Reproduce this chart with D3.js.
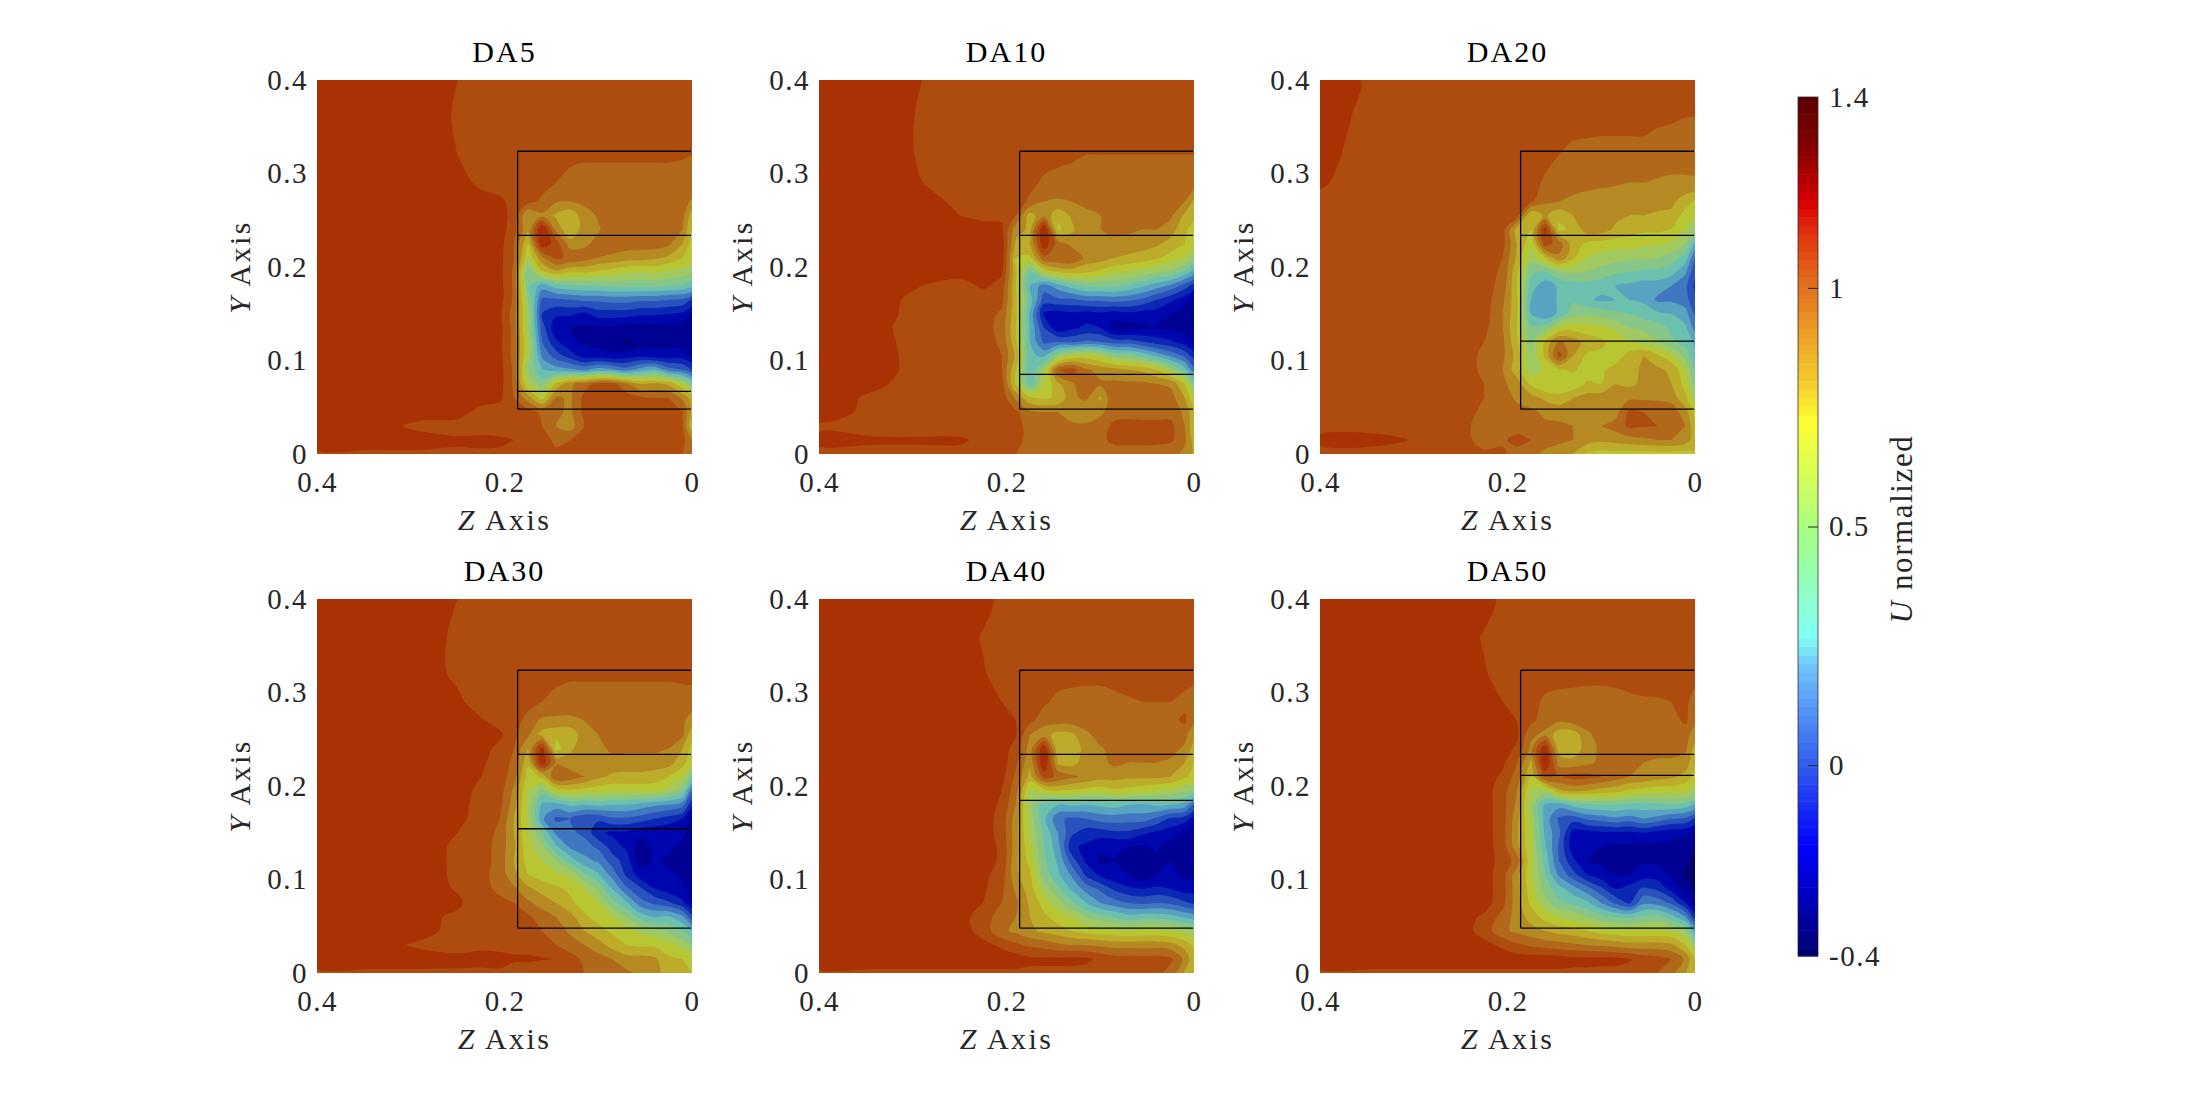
<!DOCTYPE html>
<html>
<head>
<meta charset="utf-8">
<script src="https://cdn.jsdelivr.net/npm/d3@7"></script>
<style>
  body { margin: 0; background: #fff; }
  text { font-family: "Liberation Serif", serif; fill: #262626; }
</style>
</head>
<body>
<svg id="fig" width="2187" height="1093"></svg>
<script>
// grid nodes of the sampled field, left to right and top to bottom
const zNodes = [0.4,0.34,0.29,0.25,0.225,0.205,0.19,0.175,0.16,0.145,0.13,0.115,0.1,0.085,0.07,0.055,0.04,0.025,0.01,0];
const yNodes = [0.4,0.36,0.32,0.29,0.27,0.255,0.24,0.225,0.21,0.195,0.18,0.165,0.15,0.135,0.12,0.105,0.09,0.075,0.06,0.045,0.03,0.015,0];

// U normalized x 100
const da5 = [
[115,115,115,110,105,105,105,105,105,105,105,105,105,105,105,105,105,105,105,105],
[115,115,115,109,105,105,105,105,105,105,105,105,105,105,105,105,105,105,105,105],
[115,115,115,110,105,105,105,105,105,105,104,102,102,102,102,102,102,102,101,100],
[115,115,115,115,107,105,105,105,104,100,95,95,95,95,95,95,95,95,95,96],
[115,115,115,115,115,112,107,103,98,91,90,92,94,95,95,95,95,95,95,88],
[115,115,115,115,115,115,106,80,88,78,72,86,91,95,95,95,95,95,93,74],
[115,115,115,115,115,115,104,82,122,88,70,85,89,95,95,95,95,95,90,68],
[115,115,115,115,115,114,100,70,118,105,85,88,93,95,95,95,95,92,80,66],
[115,115,115,115,115,113,100,60,88,102,98,95,90,88,85,84,82,78,70,62],
[115,115,115,115,115,113,98,40,68,78,72,72,68,65,62,60,62,58,56,52],
[115,115,115,115,115,114,98,42,25,35,38,40,40,42,42,42,42,40,38,32],
[115,115,115,115,115,114,98,50,8,8,10,12,12,14,14,12,12,10,8,-2],
[115,115,115,115,115,112,95,55,0,-8,-8,-12,-5,-5,-5,-8,-8,-10,-12,-22],
[115,115,115,115,115,113,96,55,5,-18,-20,-22,-22,-22,-25,-25,-25,-25,-25,-30],
[115,115,115,115,115,113,96,60,10,-8,-18,-22,-25,-25,-32,-28,-25,-25,-25,-30],
[115,115,115,115,115,113,96,58,18,5,-5,-15,-15,-18,-15,-12,-15,-15,-15,-22],
[115,115,115,115,115,114,98,50,30,25,22,18,25,22,15,25,30,15,10,0],
[115,115,115,115,115,114,98,60,45,72,88,95,104,104,92,80,82,78,60,40],
[115,115,115,115,115,112,100,85,66,92,88,103,107,105,105,102,100,100,88,75],
[115,115,115,115,106,105,103,104,98,92,88,103,105,105,105,105,105,104,100,78],
[115,115,107,105,104,104,103,102,100,90,85,100,105,105,105,105,105,104,100,70],
[115,115,115,112,113,112,110,106,104,98,100,103,104,104,104,104,104,104,103,90],
[108,108,108,108,108,108,106,104,102,102,102,102,102,102,102,102,102,102,100,95]
];
const da10 = [
[115,115,110,105,105,105,105,105,105,105,105,105,105,105,105,105,105,105,105,105],
[115,115,109,105,105,105,105,105,105,105,105,105,105,105,105,105,105,105,105,105],
[115,115,109,105,105,105,105,105,105,104,102,100,100,100,100,100,100,100,100,100],
[115,115,110,105,105,105,105,103,98,95,95,95,95,95,95,95,95,95,95,95],
[115,115,115,107,105,105,105,98,90,89,90,92,95,95,95,95,95,95,90,78],
[115,115,115,110,108,108,100,75,88,72,82,88,90,95,96,96,96,92,78,72],
[115,115,115,111,113,112,84,78,122,68,78,88,90,92,92,90,90,85,72,65],
[115,115,115,115,115,115,78,80,118,95,86,88,88,88,86,84,82,76,70,62],
[115,115,115,115,115,115,70,68,98,100,100,87,85,80,78,76,72,66,60,50],
[115,115,115,115,115,112,72,38,62,72,75,72,68,62,60,56,52,48,38,25],
[115,115,110,105,112,106,70,30,15,25,35,42,42,42,38,32,25,18,5,-5],
[115,115,106,105,105,103,72,35,5,8,8,12,12,14,12,8,0,-8,-15,-25],
[115,115,105,105,105,98,72,28,-12,-15,-12,-15,-12,-15,-12,-15,-15,-20,-25,-32],
[115,113,105,105,105,96,70,30,0,-18,-12,-8,-10,-25,-25,-22,-20,-22,-25,-30],
[115,114,105,105,105,98,72,30,8,10,8,12,10,5,5,0,-5,-8,-15,-25],
[115,115,105,105,105,100,78,32,28,50,62,65,60,48,45,38,28,18,8,-5],
[115,115,105,105,105,100,70,30,55,100,105,92,86,84,80,78,70,55,35,12],
[115,112,105,105,105,104,68,35,60,78,88,100,92,92,92,92,90,88,70,42],
[115,108,105,105,105,106,88,72,68,72,88,92,78,100,98,96,95,95,80,62],
[115,107,105,105,105,103,102,92,90,90,85,82,88,95,96,96,96,96,88,72],
[108,104,103,103,100,102,102,98,92,92,92,92,94,103,104,103,103,103,90,72],
[113,112,112,112,107,104,103,97,90,90,90,92,96,104,105,105,104,102,92,75],
[106,106,106,106,105,104,100,98,92,92,92,92,92,92,92,92,92,92,88,78]
];
const da20 = [
[115,108,105,105,105,105,105,105,105,105,105,105,105,105,105,105,105,105,105,105],
[115,106,105,105,105,105,105,105,105,105,105,105,105,105,105,105,102,101,100,100],
[113,105,105,105,105,105,105,105,104,100,97,96,95,95,95,95,95,95,95,95],
[111,105,105,105,105,105,105,105,98,95,94,93,92,91,90,90,89,88,88,88],
[108,105,105,105,105,105,105,102,92,90,88,86,85,85,85,85,84,82,75,68],
[107,105,105,105,105,105,104,70,82,72,80,88,85,83,80,80,78,78,65,60],
[106,105,105,105,105,105,75,70,115,68,72,85,85,78,75,72,72,70,60,50],
[105,105,105,105,105,103,80,62,105,95,75,68,66,65,65,62,62,58,50,28],
[105,105,105,105,105,100,78,55,70,88,72,60,56,54,52,52,50,45,35,10],
[105,105,105,105,105,98,72,42,40,50,52,50,46,42,40,38,38,34,22,2],
[105,105,105,105,105,96,70,35,24,32,35,36,34,30,28,25,25,20,12,-2],
[105,105,105,105,105,92,72,30,22,32,38,32,28,30,30,28,18,18,14,2],
[105,105,105,105,105,90,72,30,22,32,46,48,46,42,40,36,32,30,24,8],
[105,105,105,105,103,90,70,42,45,62,66,64,62,58,50,48,44,38,32,16],
[105,105,105,105,100,92,72,46,72,92,85,76,72,66,60,56,50,42,36,28],
[105,105,105,105,98,92,76,50,72,104,80,68,68,64,74,80,72,62,46,32],
[105,105,105,105,98,90,74,54,62,68,72,64,68,74,76,82,82,78,60,38],
[105,105,105,103,100,92,85,68,60,60,62,72,70,80,78,82,85,80,66,46],
[105,105,105,104,100,96,88,84,78,74,80,84,86,88,88,88,88,86,72,56],
[105,105,105,104,98,96,94,92,88,86,88,88,85,86,102,100,98,96,84,66],
[105,105,105,103,96,94,94,94,92,92,90,88,90,94,102,101,100,99,90,72],
[113,114,108,104,96,98,104,100,94,92,90,85,82,84,86,88,90,90,85,75],
[105,105,105,104,102,102,95,92,88,85,80,68,66,66,66,66,66,66,66,68]
];
const da30 = [
[115,115,115,110,105,105,105,105,105,105,105,105,105,105,105,105,105,105,105,105],
[115,115,115,108,105,105,105,105,105,105,105,105,105,105,105,105,105,105,105,105],
[115,115,115,108,105,105,105,105,105,104,102,102,102,102,102,102,102,102,103,103],
[115,115,115,112,105,105,105,104,100,96,95,95,95,95,95,95,95,95,95,95],
[115,115,115,115,111,106,105,96,88,88,88,90,95,95,95,95,95,95,92,85],
[115,115,115,115,115,112,103,92,76,72,72,86,90,94,95,95,95,95,92,72],
[115,115,115,115,114,107,100,80,115,66,78,86,86,93,93,93,93,90,80,66],
[115,115,115,115,112,105,98,72,118,88,84,85,88,86,84,84,84,84,74,62],
[115,115,115,115,110,105,95,65,72,100,96,90,82,78,78,78,76,70,60,40],
[115,115,115,115,107,104,88,60,45,64,68,66,64,62,62,62,62,56,44,10],
[115,115,115,115,105,103,85,58,28,25,32,30,32,30,30,26,22,20,14,-8],
[115,115,115,113,105,100,80,60,22,8,10,2,2,8,8,5,0,-5,-10,-25],
[115,115,115,110,105,98,80,62,40,18,12,8,-8,-12,-12,-18,-18,-18,-18,-25],
[115,115,115,108,105,96,82,64,52,32,18,14,8,-5,-12,-25,-18,-18,-22,-25],
[115,115,115,108,105,96,80,66,60,50,36,24,18,5,-5,-25,-18,-22,-25,-30],
[115,115,115,108,104,95,84,70,66,62,58,42,32,16,-2,-15,-18,-18,-22,-30],
[115,115,115,109,103,98,92,82,76,72,68,60,48,30,12,2,-10,-15,-18,-25],
[115,115,115,112,103,102,100,92,86,80,72,66,60,44,32,14,8,2,-8,-20],
[115,115,113,108,104,102,104,102,95,90,84,72,66,60,50,36,30,32,22,2],
[115,115,114,106,104,102,104,103,100,96,88,80,74,68,64,58,52,48,40,30],
[115,115,108,104,108,106,104,103,102,100,95,90,84,76,70,68,68,64,56,48],
[115,115,115,114,113,114,113,113,111,110,104,98,94,90,84,84,82,72,70,62],
[108,108,108,108,108,108,100,100,100,100,100,100,98,96,92,88,84,74,70,70]
];
const da40 = [
[115,115,115,115,115,106,105,105,105,105,105,105,105,105,105,105,105,105,105,105],
[115,115,115,115,109,105,105,105,105,105,105,105,105,105,105,105,105,105,105,105],
[115,115,115,115,111,106,105,105,105,105,104,103,103,103,104,104,105,105,105,103],
[115,115,115,115,115,110,107,105,102,97,96,96,96,98,99,100,100,100,97,95],
[115,115,115,115,115,115,110,103,94,95,95,95,95,95,95,95,96,97,102,92],
[115,115,115,115,115,115,111,90,84,76,78,88,94,95,95,95,95,95,94,82],
[115,115,115,115,115,115,106,85,118,72,70,86,89,93,95,95,94,94,88,76],
[115,115,115,115,115,115,102,82,122,78,76,86,87,92,90,90,90,88,80,70],
[115,115,115,115,115,113,98,76,104,98,92,88,84,84,82,82,82,80,72,66],
[115,115,115,115,115,110,94,58,65,70,68,66,64,68,66,64,60,58,52,48],
[115,115,115,115,115,108,90,52,35,30,32,30,32,34,30,28,32,30,26,8],
[115,115,115,115,115,106,85,56,32,12,8,10,14,15,14,15,8,-2,-5,-15],
[115,115,115,115,115,106,84,58,38,20,2,-5,-5,-2,-2,-8,-12,-15,-22,-28],
[115,115,115,115,115,108,84,62,40,24,-8,-12,-18,-20,-20,-22,-18,-25,-25,-30],
[115,115,115,115,115,108,82,66,42,28,5,-12,-22,-20,-22,-28,-22,-20,-24,-28],
[115,115,115,115,113,105,82,72,46,32,18,-2,-12,-18,-20,-28,-20,-18,-22,-22],
[115,115,115,115,112,102,88,74,56,42,28,16,8,-2,-8,-10,-8,-10,-15,-15],
[115,115,115,115,110,100,92,78,66,54,42,30,20,14,10,8,10,8,2,-2],
[115,115,115,115,104,96,90,80,72,66,60,50,44,40,34,36,36,34,28,24],
[115,115,115,115,106,92,88,82,78,74,70,66,64,62,60,62,62,60,56,50],
[115,115,115,115,113,108,102,98,96,92,90,90,88,86,86,86,86,84,76,68],
[115,115,115,115,115,115,115,112,112,112,113,112,108,104,104,103,104,102,88,72],
[108,108,108,108,108,108,108,108,108,108,107,106,106,104,104,104,102,96,78,70]
];
const da50 = [
[115,115,115,115,115,107,105,105,105,105,105,105,105,105,105,105,105,105,105,105],
[115,115,115,115,109,105,105,105,105,105,105,105,105,105,105,105,105,105,105,105],
[115,115,115,115,111,106,105,105,105,105,104,103,103,103,104,104,105,105,105,103],
[115,115,115,115,115,110,107,104,98,96,96,96,96,97,98,99,99,100,102,96],
[115,115,115,115,115,114,110,103,94,92,95,95,95,95,95,95,95,96,102,92],
[115,115,115,115,115,115,112,92,88,74,74,88,94,95,95,95,95,95,95,84],
[115,115,115,115,115,115,108,88,118,74,72,86,92,95,95,95,95,94,92,76],
[115,115,115,115,115,112,100,78,122,86,84,88,92,93,92,90,88,88,85,72],
[115,115,115,115,115,108,96,70,102,100,104,103,100,95,90,88,84,82,76,66],
[115,115,115,115,115,104,90,58,55,78,82,80,76,74,68,66,64,64,62,56],
[115,115,115,115,115,104,88,54,28,24,34,38,40,40,38,36,38,40,36,28],
[115,115,115,115,115,104,84,58,26,8,4,12,14,18,15,20,16,10,8,-2],
[115,115,115,115,115,104,82,60,28,12,-14,-14,-12,-12,-12,-10,-14,-16,-18,-22],
[115,115,115,115,115,105,84,60,32,8,-16,-20,-20,-22,-22,-24,-22,-24,-25,-28],
[115,115,115,115,115,106,96,62,36,10,-8,-20,-22,-26,-24,-22,-22,-22,-28,-35],
[115,115,115,115,115,104,84,62,40,18,4,-10,-16,-20,-20,-15,-15,-22,-32,-38],
[115,115,115,115,115,104,84,64,46,34,24,14,2,-10,-6,2,-2,-14,-25,-32],
[115,115,115,115,115,103,84,68,54,42,38,32,20,8,-2,18,16,8,-10,-25],
[115,115,115,115,108,96,86,76,66,60,56,50,44,40,38,42,44,34,20,-5],
[115,115,115,115,106,92,88,84,80,76,74,70,66,64,62,62,62,60,50,25],
[115,115,115,115,113,108,102,98,96,94,92,90,88,86,84,84,84,82,70,50],
[115,115,115,115,115,115,115,115,115,115,113,113,113,113,111,106,104,100,88,70],
[108,108,108,108,108,108,108,108,108,108,108,108,107,107,106,104,100,92,80,72]
];

const panelNames = ["DA5","DA10","DA20","DA30","DA40","DA50"];
const panelFields = [da5,da10,da20,da30,da40,da50];
const planeY = [0.067,0.0852,0.1208,0.1543,0.1847,0.2114];

// outline of the model section
const boxZ = 0.186;
const boxLevels = [0.3238,0.2338,0.048];

const xTicks = [0.4,0.2,0];
const yTicks = [0,0.1,0.2,0.3,0.4];
const barTicks = [-0.4,0,0.5,1,1.4];

// filled contour levels (x 100) and the colour of the band above each
const levels = [-40,-30,-20,-10,0,10,20,30,40,50,60,70,80,90,100,110,120,130];
const bandColors = ["#000070","#000092","#0006ae","#0b28b4","#2a52bc","#3f78c0","#58a3c0",
  "#6cc0ae","#88c688","#a2c860","#b8c632","#bdab2a","#b58a22","#b1681a","#ad4c0e","#a83204","#b81c0a","#a00808"];

// colorbar colormap
const barStops = [-0.4,-0.17,0,0.1,0.2,0.27,0.4,0.5,0.6,0.72,0.8,0.9,1,1.1,1.18,1.3,1.4];
const barColors = ["#00006e","#0000ff","#325ceb","#508cf5","#6ebefa","#82fff5","#96ffb4","#aaff82",
  "#d2ff5a","#ffff32","#f5cd2d","#eba028","#e1731e","#e13c0f","#d70000","#820000","#5a0000"];

const svg = d3.select("#fig");
const panelW = 375, panelH = 374;
const colX = [317,819,1320], rowY = [80,599];
const fmt = d => d === 0 ? "0" : String(d);

const zIndex = d3.scaleLinear().domain(zNodes.map((_, i) => i + 0.5)).range(zNodes).clamp(true);
const yIndex = d3.scaleLinear().domain(yNodes.map((_, i) => i + 0.5)).range(yNodes).clamp(true);
const contours = d3.contours().size([zNodes.length, yNodes.length]).thresholds(levels);
const bandColor = d3.scaleOrdinal().domain(levels).range(bandColors);

svg.append("clipPath").attr("id", "panel-clip").append("rect")
  .attr("width", panelW).attr("height", panelH);

panelNames.forEach((name, k) => {
  const g = svg.append("g")
    .attr("transform", `translate(${colX[k % 3]},${rowY[Math.floor(k / 3)]})`);
  const x = d3.scaleLinear().domain([0.4, 0]).range([0, panelW]);
  const y = d3.scaleLinear().domain([0, 0.4]).range([panelH, 0]);

  // rings are drawn with a closed spline so the bands lose the grid's corners
  const ring = d3.line()
    .x(p => x(zIndex(p[0])))
    .y(p => y(yIndex(p[1])))
    .curve(d3.curveCatmullRomClosed.alpha(0.5));
  const bandPath = c => c.coordinates
    .map(poly => poly.map(r => ring(r.slice(0, -1))).join("")).join("");

  const field = g.append("g").attr("clip-path", "url(#panel-clip)");
  field.append("rect").attr("width", panelW).attr("height", panelH)
    .attr("fill", bandColor(110));
  field.selectAll("path.band")
    .data(contours(panelFields[k].flat()))
    .join("path")
    .attr("class", "band")
    .attr("d", bandPath)
    .attr("fill", d => bandColor(d.value));

  // section outline and the laser plane
  const lines = boxLevels.concat(planeY[k]);
  g.selectAll("line.plane")
    .data(lines)
    .join("line")
    .attr("class", "plane")
    .attr("x1", x(boxZ)).attr("x2", x(0) - 1)
    .attr("y1", d => y(d)).attr("y2", d => y(d))
    .attr("stroke", "#000").attr("stroke-width", 1.3);
  g.append("line")
    .attr("x1", x(boxZ)).attr("x2", x(boxZ))
    .attr("y1", y(boxLevels[0])).attr("y2", y(boxLevels[2]))
    .attr("stroke", "#000").attr("stroke-width", 1.3);

  const ax = g.append("g").attr("transform", `translate(0,${panelH})`)
    .call(d3.axisBottom(x).tickValues(xTicks).tickFormat(fmt).tickSize(0).tickPadding(17));
  const ay = g.append("g")
    .call(d3.axisLeft(y).tickValues(yTicks).tickFormat(fmt).tickSize(0).tickPadding(9));
  [ax, ay].forEach(a => {
    a.select(".domain").remove();
    a.selectAll("text").style("font-family", null).style("font-size", "29px").style("letter-spacing", "1.5px");
  });

  g.append("text").attr("x", panelW / 2).attr("y", -18)
    .attr("text-anchor", "middle").attr("font-size", 30).style("letter-spacing", "2px").style("fill", "#000").text(name);

  const xl = g.append("text").attr("x", panelW / 2).attr("y", panelH + 76)
    .attr("text-anchor", "middle").attr("font-size", 30).style("letter-spacing", "2.4px");
  xl.append("tspan").attr("font-style", "italic").text("Z");
  xl.append("tspan").text(" Axis");

  const yl = g.append("text")
    .attr("transform", `translate(-67,${panelH / 2}) rotate(-90)`)
    .attr("text-anchor", "middle").attr("font-size", 30).style("letter-spacing", "2.4px");
  yl.append("tspan").attr("font-style", "italic").text("Y");
  yl.append("tspan").text(" Axis");
});

// colorbar
const barX = 1798, barW = 20, barTop = 97, barBottom = 956;
const barScale = d3.scaleLinear().domain([-0.4, 1.4]).range([barBottom, barTop]);
const barColor = d3.scaleLinear().domain(barStops).range(barColors);
const bar = svg.append("g");
const steps = d3.range(100).map(i => -0.4 + 1.8 * i / 100);
bar.selectAll("rect")
  .data(steps)
  .join("rect")
  .attr("x", barX).attr("width", barW)
  .attr("y", d => barScale(d + 0.018))
  .attr("height", d => barScale(d) - barScale(d + 0.018) + 0.5)
  .attr("fill", d => barColor(d + 0.009));
bar.append("rect")
  .attr("x", barX).attr("y", barTop).attr("width", barW).attr("height", barBottom - barTop)
  .attr("fill", "none").attr("stroke", "#262626").attr("stroke-opacity", 0.75).attr("stroke-width", 1);

const barAxis = bar.append("g").attr("transform", `translate(${barX + barW},0)`)
  .call(d3.axisRight(barScale).tickValues(barTicks).tickFormat(fmt).tickSizeInner(0).tickSizeOuter(0).tickPadding(11));
barAxis.select(".domain").remove();
barAxis.selectAll("text").style("font-size", "29px").style("font-family", null).style("letter-spacing", "1.5px");
barAxis.selectAll("line")
  .attr("x1", -10).attr("x2", 0)
  .attr("stroke", "#262626")
  .attr("opacity", d => (d === 0 || d === 0.5 || d === 1) ? 1 : 0);

const barLabel = svg.append("text")
  .attr("transform", "translate(1912,529) rotate(-90)")
  .attr("text-anchor", "middle").attr("font-size", 31).style("letter-spacing", "1.6px");
barLabel.append("tspan").attr("font-style", "italic").text("U");
barLabel.append("tspan").text(" normalized");
</script>
</body>
</html>
